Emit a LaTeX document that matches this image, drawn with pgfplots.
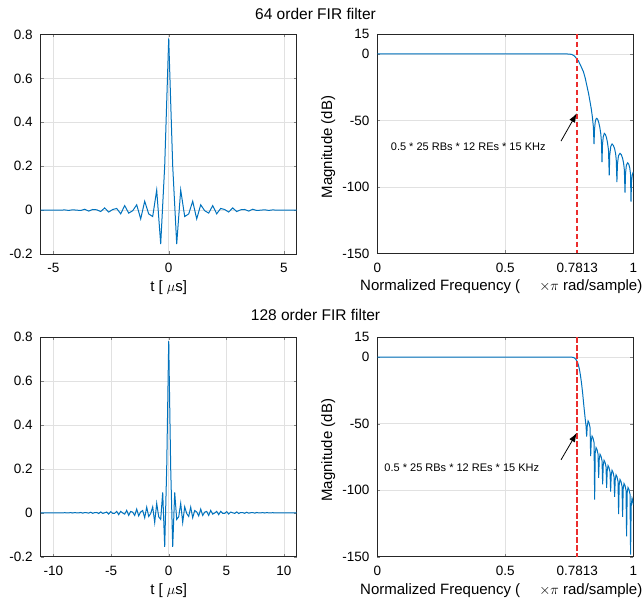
\documentclass[border=0pt]{standalone}
\usepackage{fontspec}
\setmainfont{Liberation Sans}
\usepackage{pgfplots}
\pgfplotsset{compat=1.18}
\usepackage{pgfplotstable}
\usetikzlibrary{arrows.meta}

\definecolor{mblue}{RGB}{0,114,189}
\definecolor{cutred}{RGB}{235,45,45}
\definecolor{axgray}{RGB}{38,38,38}
\definecolor{gridgray}{RGB}{225,225,225}

% impulse response, 64 order (symmetric, n >= 0)
\pgfplotstableread{
n h
0 0.78125
1 0.20144
2 -0.15460
3 0.09157
4 -0.02929
5 -0.01739
6 0.04039
7 -0.04011
8 0.02401
9 -0.00283
10 -0.01375
11 0.02037
12 -0.01695
13 0.00745
14 0.00265
15 -0.00901
16 0.00995
17 -0.00653
18 0.00139
19 0.00280
20 -0.00454
21 0.00383
22 -0.00179
23 -0.00025
24 0.00137
25 -0.00144
26 0.00086
27 -0.00020
28 -0.00017
29 0.00021
30 -0.00010
31 0.00002
32 0
}\hA

% impulse response, 128 order (symmetric, n >= 0)
\pgfplotstableread{
n h
0 0.78125
1 0.20181
2 -0.15572
3 0.09307
4 -0.03016
5 -0.01820
6 0.04316
7 -0.04393
8 0.02706
9 -0.00330
10 -0.01664
11 0.02572
12 -0.02245
13 0.01041
14 0.00393
15 -0.01428
16 0.01698
17 -0.01210
18 0.00282
19 0.00630
20 -0.01144
21 0.01098
22 -0.00591
23 -0.00097
24 0.00648
25 -0.00847
26 0.00657
27 -0.00213
28 -0.00260
29 0.00555
30 -0.00571
31 0.00342
32 0
33 -0.00291
34 0.00414
35 -0.00342
36 0.00136
37 0.00095
38 -0.00247
39 0.00269
40 -0.00174
41 0.00022
42 0.00111
43 -0.00172
44 0.00149
45 -0.00067
46 -0.00025
47 0.00086
48 -0.00097
49 0.00065
50 -0.00014
51 -0.00029
52 0.00048
53 -0.00041
54 0.00019
55 0.00003
56 -0.00015
57 0.00016
58 -0.00010
59 0.00002
60 0.00002
61 -0.00003
62 0.00001
63 0
64 0
}\hB

% magnitude response, 64 order
\pgfplotstableread{
f m
0 0
0.70 0
0.74 -0.02
0.75 -0.08
0.76 -0.4
0.77 -1.5
0.7813 -4.2
0.785 -5.0
0.795 -9.0
0.805 -13.3
0.812 -18.0
0.818 -23.3
0.825 -29.5
0.831 -35.9
0.836 -41.5
0.840 -47.2
0.844 -54.7
0.8465 -67.7
0.8485 -57
0.851 -51.5
0.854 -49
0.857 -48.4
0.861 -49.2
0.865 -51.5
0.869 -55
0.873 -60
0.8755 -66
0.8777 -81.3
0.8797 -68
0.8825 -62.5
0.8867 -59.7
0.891 -60.5
0.895 -62.7
0.899 -66.5
0.903 -72
0.906 -91.3
0.908 -76
0.912 -69.5
0.917 -67.7
0.922 -68.7
0.927 -71.3
0.931 -75
0.9335 -80
0.936 -96.3
0.938 -83
0.942 -76.5
0.948 -74.7
0.953 -75.7
0.958 -78.3
0.962 -82
0.965 -87
0.9676 -104.3
0.9696 -90
0.973 -83.5
0.978 -81.8
0.982 -82.8
0.986 -85.5
0.989 -90
0.991 -111
0.993 -96
0.996 -91
1.0 -88.6
}\mA

% magnitude response, 128 order
\pgfplotstableread{
f m
0 0
0.75 0
0.76 -0.05
0.766 -0.2
0.772 -0.9
0.776 -1.8
0.7813 -3.5
0.785 -5.5
0.79 -9.5
0.794 -14.3
0.798 -20
0.802 -26.8
0.807 -36.9
0.8125 -47
0.8155 -52
0.8178 -59.8
0.8201 -52
0.8233 -48
0.8272 -49.5
0.8311 -53
0.8334 -74.4
0.8357 -63.3
0.8389 -59.3
0.8428 -60.8
0.8467 -64.3
0.8490 -107
0.8513 -72
0.8545 -68
0.8584 -69.5
0.8623 -73
0.8646 -90.7
0.8669 -77
0.8701 -73
0.8740 -74.5
0.8779 -78
0.8802 -95.7
0.8825 -81.5
0.8857 -77.5
0.8896 -79
0.8935 -82.5
0.8958 -98.2
0.8981 -85.5
0.9013 -81.5
0.9052 -83
0.9091 -86.5
0.9114 -101
0.9137 -89
0.9169 -85
0.9208 -86.5
0.9247 -90
0.9270 -105
0.9293 -92.5
0.9325 -88.5
0.9364 -90
0.9403 -93.5
0.9426 -118
0.9449 -96
0.9481 -92
0.9520 -93.5
0.9559 -97
0.9582 -120
0.9605 -99
0.9637 -95
0.9676 -96.5
0.9715 -100
0.9738 -134.7
0.9761 -102
0.9793 -98
0.9832 -99.5
0.9871 -103
0.9894 -148.5
0.9917 -112
0.9950 -106
0.9975 -107.5
1.0 -111
}\mB

% cut-off line at 0.7813
\pgfplotstableread{
f m
0.78125 15
0.78125 -150
}\cutoff

\pgfplotsset{
  mat/.style={
    scale only axis, width=256bp, height=219.5bp,
    axis line style={axgray, line width=0.8bp},
    major tick length=3bp,
    tick align=inside,
    grid=major,
    major grid style={gridgray, line width=0.6bp},
    ticklabel style={font=\fontsize{13.5bp}{16bp}\selectfont},
    yticklabel style={xshift=-4.5bp},
    xticklabel style={yshift=-6bp},
    /pgf/number format/assume math mode=true,
    /pgf/number format/fixed,
    label style={font=\fontsize{15bp}{18bp}\selectfont},
    xlabel style={at={([yshift=-37.5bp]axis description cs:0.5,0)}, anchor=base},
    ylabel style={at={([xshift=-49bp]axis description cs:0,0.485)}, anchor=center},
  },
  imp/.style={mat, ymin=-0.2, ymax=0.8, ytick={-0.2,0,0.2,0.4,0.6,0.8},
    yticklabels={-0.2,0,0.2,0.4,0.6,0.8}, xlabel={t [ $\mu$s]}},
  mag/.style={mat, xmin=0, xmax=1, ymin=-150, ymax=15,
    xtick={0,0.5,1}, xticklabels={0,0.5,1},
    extra x ticks={0.78125}, extra x tick labels={0.7813},
    extra x tick style={grid=none},
    ytick={-150,-100,-50,0,15}, yticklabels={-150,-100,-50,0,15},
    ylabel={Magnitude (dB)},
    xlabel={Normalized Frequency (\hspace{19bp}$\times\pi$ rad/sample)},
    xlabel style={at={([xshift=-20.6bp,yshift=-37.5bp]axis description cs:0,0)}, anchor=base west}},
}

\begin{document}
\begin{tikzpicture}
\path[use as bounding box] (0,0) rectangle (643bp,601bp);

% titles
\node[anchor=base, font=\fontsize{15.5bp}{18bp}\selectfont] at (315.5bp,581.7bp) {64 order FIR filter};
\node[anchor=base, font=\fontsize{15.5bp}{18bp}\selectfont] at (315.5bp,280.3bp) {128 order FIR filter};

% top-left: 64 order impulse response
\begin{axis}[imp, at={(40.7bp,347bp)}, anchor=south west,
  xmin=-5.5556, xmax=5.5556, xtick={-5,0,5}, xticklabels={-5,0,5}]
\addplot[mblue, line width=1bp] table[x expr=\thisrow{n}*0.1736111, y=h] {\hA};
\addplot[mblue, line width=1bp] table[x expr=-\thisrow{n}*0.1736111, y=h] {\hA};
\end{axis}

% top-right: 64 order magnitude
\begin{axis}[mag, at={(377.3bp,347.5bp)}, anchor=south west]
\addplot[mblue, line width=1bp] table[x=f, y=m] {\mA};
\addplot[cutred, line width=2bp, dash pattern=on 5.5bp off 2.5bp] table[x=f, y=m] {\cutoff};
\draw[-{Latex[length=9bp,width=6.5bp]}, line width=0.8bp, black] (axis cs:0.7176,-65.5) -- (axis cs:0.7789,-44.7);
\node[anchor=west, font=\fontsize{11bp}{13bp}\selectfont, inner sep=0pt] at (axis cs:0.0523,-70) {0.5 * 25 RBs * 12 REs * 15 KHz};
\end{axis}

% bottom-left: 128 order impulse response
\begin{axis}[imp, at={(40.7bp,44.3bp)}, anchor=south west,
  xmin=-11.1111, xmax=11.1111, xtick={-10,-5,0,5,10}, xticklabels={-10,-5,0,5,10}]
\addplot[mblue, line width=1bp] table[x expr=\thisrow{n}*0.1736111, y=h] {\hB};
\addplot[mblue, line width=1bp] table[x expr=-\thisrow{n}*0.1736111, y=h] {\hB};
\end{axis}

% bottom-right: 128 order magnitude
\begin{axis}[mag, at={(377.3bp,44.3bp)}, anchor=south west]
\addplot[mblue, line width=1bp] table[x=f, y=m] {\mB};
\addplot[cutred, line width=2bp, dash pattern=on 5.5bp off 2.5bp] table[x=f, y=m] {\cutoff};
\draw[-{Latex[length=9bp,width=6.5bp]}, line width=0.8bp, black] (axis cs:0.7176,-77.2) -- (axis cs:0.7789,-57.0);
\node[anchor=west, font=\fontsize{11bp}{13bp}\selectfont, inner sep=0pt] at (axis cs:0.0273,-83) {0.5 * 25 RBs * 12 REs * 15 KHz};
\end{axis}
\end{tikzpicture}
\end{document}
